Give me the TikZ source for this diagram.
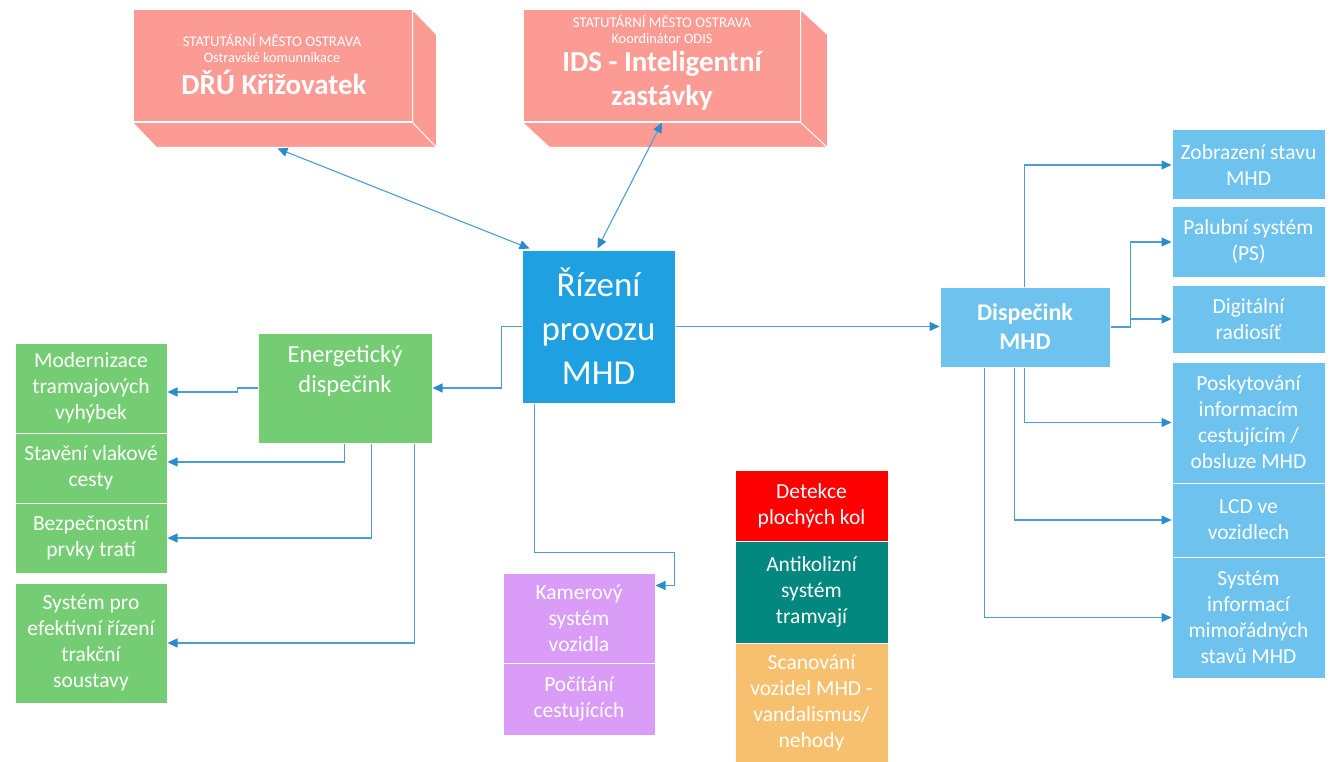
\documentclass[tikz,border=0pt]{standalone}
\usepackage{fontspec}
\setmainfont{Carlito}
\usetikzlibrary{arrows.meta}
\definecolor{salmon}{HTML}{FC9B93}
\definecolor{rizblue}{HTML}{1FA0E1}
\definecolor{ltblue}{HTML}{6DC3ED}
\definecolor{grn}{HTML}{74CD72}
\definecolor{purp}{HTML}{D99CF7}
\definecolor{redbox}{HTML}{FF0000}
\definecolor{tealbox}{HTML}{02887E}
\definecolor{orng}{HTML}{F7C06E}
\definecolor{conn}{HTML}{4AA0D6}
\definecolor{tipc}{HTML}{2A8CCB}
\tikzset{
  box/.style={draw=white, line width=1pt, text=white, align=center, inner sep=0pt,
    font=\fontsize{21.5}{26}\selectfont},
  toptxt/.style={text=white, inner sep=0pt, align=center},
  arr/.style={draw=conn, line width=1.1pt, -{Triangle[length=10pt,width=9pt,color=tipc]}},
  darr/.style={draw=conn, line width=1.1pt, {Triangle[length=10pt,width=9pt,color=tipc]}-{Triangle[length=10pt,width=9pt,color=tipc]}},
  face/.style={fill=salmon, draw=white, line width=1pt}
}
\newcommand\bx[8][]{\node[box,#1,fill=#7,minimum width={(#4-#2)*1pt},minimum height={(#5-#3)*1pt}] (#6) at ({(#2+#4)/2},{(#3+#5)/2}) {#8};}
\begin{document}
\begin{tikzpicture}[x=1pt,y=-1pt]
\useasboundingbox (0,0) rectangle (1330,762);
\fill[white] (0,0) rectangle (1330,762);

% top 3D boxes
\bx{133}{10}{412}{122}{dru}{salmon}{}
\draw[face] (dru.south west) -- ([shift={(24,25)}]dru.south west) -- ([shift={(24,25)}]dru.south east) -- ([shift={(24,25)}]dru.north east) -- (dru.north east) -- (dru.south east) -- cycle;
\draw[white, line width=1pt] (dru.south east) -- ([shift={(24,25)}]dru.south east);
\node[toptxt, font=\fontsize{14.8}{17}\selectfont] (dru1) at (272,40) {STATUTÁRNÍ MĚSTO OSTRAVA};
\node[toptxt, font=\fontsize{14.3}{17}\selectfont] (dru2) at (272,58) {Ostravské komunnikace};
\node[toptxt, font=\fontsize{29}{34}\bfseries] (dru3) at (274,82) {DŘÚ Křižovatek};

\bx{523}{10}{800}{122}{ids}{salmon}{}
\draw[face] (ids.south west) -- ([shift={(27,25)}]ids.south west) -- ([shift={(27,25)}]ids.south east) -- ([shift={(27,25)}]ids.north east) -- (ids.north east) -- (ids.south east) -- cycle;
\draw[white, line width=1pt] (ids.south east) -- ([shift={(27,25)}]ids.south east);
\node[toptxt, font=\fontsize{14.8}{17}\selectfont] (ids1) at (662,21) {STATUTÁRNÍ MĚSTO OSTRAVA};
\node[toptxt, font=\fontsize{14.3}{17}\selectfont] (ids2) at (662,39) {Koordinátor ODIS};
\node[toptxt, font=\fontsize{29}{34}\bfseries] (ids3) at (662,81) {IDS - Inteligentní\\zastávky};

% center
\bx[font=\fontsize{35}{44}\selectfont]{522}{250}{675}{403}{riz}{rizblue}{Řízení\\provozu\\MHD}

% energetic
\bx[font=\fontsize{24.5}{30}\selectfont]{258}{333}{432}{443}{ene}{grn}{Energetický\\dispečink\\\strut}
\bx{15}{343}{167}{433}{mod}{grn}{Modernizace\\tramvajových\\vyhýbek}
\bx{15}{433}{167}{503}{stav}{grn}{Stavění vlakové\\cesty}
\bx{15}{503}{167}{573}{bez}{grn}{Bezpečnostní\\prvky tratí}
\bx{15}{583}{167}{703}{sys}{grn}{Systém pro\\efektivní řízení\\trakční\\soustavy}

% dispecink
\bx[font=\fontsize{24}{29}\bfseries]{940}{287}{1110}{367}{disp}{ltblue}{Dispečink\\MHD}
\bx{1172}{130}{1325}{200}{zob}{ltblue}{Zobrazení stavu\\MHD}
\bx{1172}{207}{1325}{277}{pal}{ltblue}{Palubní systém\\(PS)}
\bx{1172}{285}{1325}{353}{dig}{ltblue}{Digitální\\radiosíť}
\bx{1172}{362}{1325}{483}{posk}{ltblue}{Poskytování\\informacím\\cestujícím /\\obsluze MHD}
\bx{1172}{483}{1325}{557}{lcd}{ltblue}{LCD ve\\vozidlech}
\bx{1172}{557}{1325}{678}{sim}{ltblue}{Systém\\informací\\mimořádných\\stavů MHD}

% bottom middle
\bx{503}{573}{655}{663}{kam}{purp}{Kamerový\\systém\\vozidla}
\bx{503}{663}{655}{735}{poc}{purp}{Počítání\\cestujících}
\bx{735}{470}{888}{541}{det}{redbox}{Detekce\\plochých kol}
\bx{735}{541}{888}{643}{anti}{tealbox}{Antikolizní\\systém\\tramvají}
\bx{735}{643}{888}{762}{scan}{orng}{Scanování\\vozidel MHD -\\vandalismus/\\nehody}

% connectors
\draw[darr] ([shift={(5,26)}]dru.south) -- ([shift={(8,-1)}]riz.north west);
\draw[darr] ([shift={(0.5,0)}]ids.south) -- ([shift={(76,-1)}]riz.north west);
\draw[arr] (riz.west) -- ++(-20,0) |- (ene.east);
\draw[arr] (riz.east) -- (riz.east -| disp.west);
\draw[arr] ([xshift=13pt]riz.south west) -- ++(0,149) -- ++(140,0) |- ([yshift=-13pt]kam.north east);

\draw[arr] (ene.west) -- ++(-20,0) -- ++(0,4) -- ([yshift=-4pt]mod.east);
\draw[arr] ([xshift=87pt]ene.south west) |- ([yshift=6pt]stav.east);
\draw[arr] ([xshift=114pt]ene.south west) |- (bez.east);
\draw[arr] ([xshift=157pt]ene.south west) |- (sys.east);

\draw[arr] ([xshift=85pt]disp.north west) |- (zob.west);
\draw[arr] (disp.east) -- ++(20,0) |- (pal.west);
\draw[arr] ([xshift=20pt]disp.east) |- (dig.west);
\draw[arr] ([xshift=85pt]disp.south west) |- (posk.west);
\draw[arr] ([xshift=75pt]disp.south west) |- (lcd.west);
\draw[arr] ([xshift=45pt]disp.south west) |- (sim.west);
\end{tikzpicture}
\end{document}
